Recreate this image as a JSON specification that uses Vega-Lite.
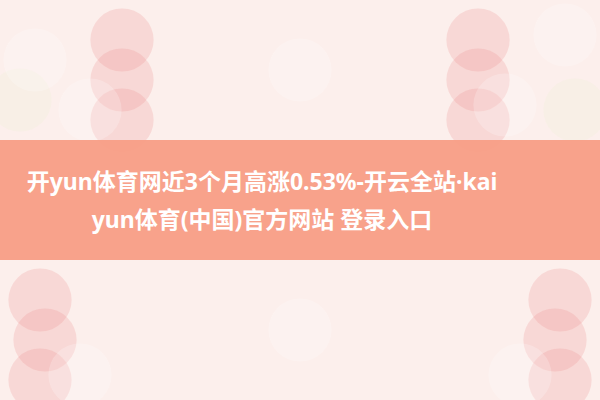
{
  "$schema": "https://vega.github.io/schema/vega-lite/v6.json",
  "autosize": {"type": "none"},
  "width": 600,
  "height": 400,
  "padding": 0,
  "background": "#fcefec",
  "config": {"view": {"stroke": null}},
  "datasets": {
    "blobs": [
      {"x": 300, "y": 70, "kind": "haze"},
      {"x": 300, "y": 330, "kind": "haze"},
      {"x": 122, "y": 40, "kind": "glow"},
      {"x": 122, "y": 80, "kind": "glow"},
      {"x": 122, "y": 120, "kind": "glow"},
      {"x": 478, "y": 40, "kind": "glow"},
      {"x": 478, "y": 80, "kind": "glow"},
      {"x": 478, "y": 120, "kind": "glow"},
      {"x": 40, "y": 300, "kind": "glow"},
      {"x": 45, "y": 340, "kind": "glow"},
      {"x": 40, "y": 380, "kind": "glow"},
      {"x": 560, "y": 300, "kind": "glow"},
      {"x": 555, "y": 340, "kind": "glow"},
      {"x": 560, "y": 380, "kind": "glow"},
      {"x": 20, "y": 100, "kind": "tint"},
      {"x": 575, "y": 110, "kind": "tint"},
      {"x": 35, "y": 60, "kind": "petal"},
      {"x": 90, "y": 110, "kind": "petal"},
      {"x": 565, "y": 35, "kind": "petal"},
      {"x": 505, "y": 105, "kind": "petal"},
      {"x": 80, "y": 375, "kind": "petal"},
      {"x": 520, "y": 375, "kind": "petal"}
    ],
    "band": [{"x": 0, "x2": 600, "y": 140, "y2": 260}],
    "lines": [
      {"x": 262, "y": 183, "text": "开yun体育网近3个月高涨0.53%-开云全站·kai"},
      {"x": 262, "y": 221, "text": "yun体育(中国)官方网站 登录入口"}
    ]
  },
  "layer": [
    {
      "data": {"name": "blobs"},
      "mark": {"type": "point", "filled": true, "shape": "circle", "opacity": 0.22, "clip": true},
      "encoding": {
        "x": {"field": "x", "type": "quantitative", "scale": {"domain": [0, 600]}, "axis": null},
        "y": {"field": "y", "type": "quantitative", "scale": {"domain": [0, 400], "reverse": true}, "axis": null},
        "color": {
          "field": "kind", "type": "nominal", "legend": null,
          "scale": {"domain": ["glow", "tint", "petal", "haze"], "range": ["#ee8a88", "#eef0d0", "#ffffff", "#ffffff"]}
        },
        "size": {
          "field": "kind", "type": "nominal", "legend": null,
          "scale": {"domain": ["glow", "tint", "petal", "haze"], "range": [4000, 4000, 2500, 40000]}
        }
      }
    },
    {
      "data": {"name": "band"},
      "mark": {"type": "rect", "color": "#f89e86", "opacity": 0.96},
      "encoding": {
        "x": {"field": "x", "type": "quantitative"},
        "x2": {"field": "x2"},
        "y": {"field": "y", "type": "quantitative"},
        "y2": {"field": "y2"}
      }
    },
    {
      "data": {"name": "lines"},
      "mark": {"type": "text", "color": "#ffffff", "font": "Noto Sans, Noto Sans CJK SC", "fontSize": 23, "fontWeight": "bold", "align": "center", "baseline": "middle"},
      "encoding": {
        "x": {"field": "x", "type": "quantitative"},
        "y": {"field": "y", "type": "quantitative"},
        "text": {"field": "text", "type": "nominal"}
      }
    }
  ]
}
